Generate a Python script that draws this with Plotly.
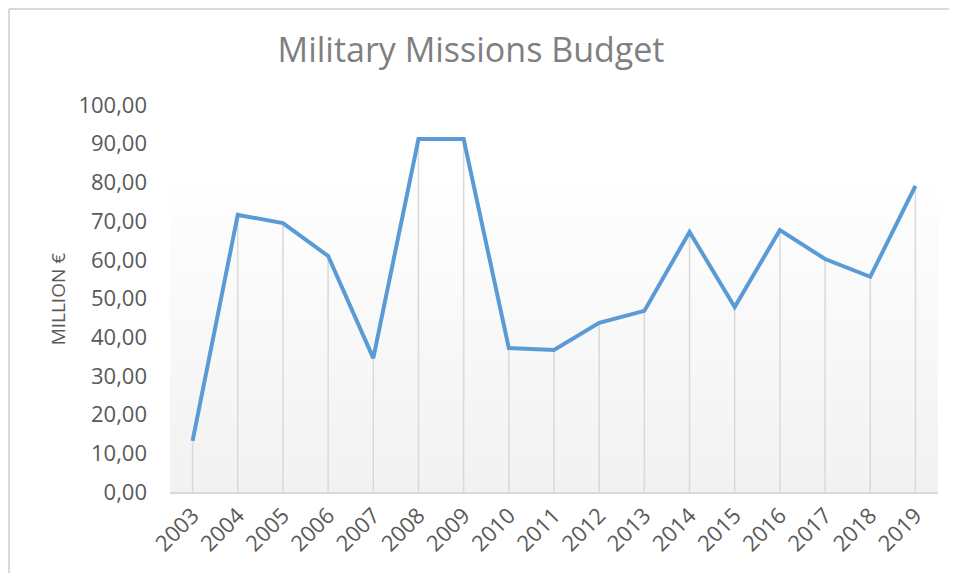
import plotly.graph_objects as go

years = ["2003", "2004", "2005", "2006", "2007", "2008", "2009", "2010", "2011",
         "2012", "2013", "2014", "2015", "2016", "2017", "2018", "2019"]
budget = [13.2, 71.6, 69.5, 61.0, 34.6, 91.2, 91.2, 37.2, 36.7,
          43.7, 46.8, 67.2, 47.8, 67.7, 60.2, 55.6, 79.1]
y_ticks = [0, 10, 20, 30, 40, 50, 60, 70, 80, 90, 100]

idx = list(range(len(years)))

fig = go.Figure()

# drop lines (behind the series)
fig.add_trace(go.Scatter(
    x=idx, y=budget, mode="markers", marker=dict(size=0.1, color="rgba(0,0,0,0)"),
    error_y=dict(type="data", symmetric=False, array=[0] * len(budget),
                 arrayminus=budget, width=0, color="#D9D9D9", thickness=1.5),
    hoverinfo="skip", showlegend=False,
))

fig.add_trace(go.Scatter(
    x=idx, y=budget, mode="lines",
    line=dict(color="#5B9BD5", width=4),
    showlegend=False,
))

# plot area gradient (background styling)
n = 40
top = 0.80
for i in range(n):
    t = i / (n - 1)
    c = int(round(242 + (254 - 242) * t))
    fig.add_shape(type="rect", xref="paper", yref="paper",
                  x0=0, x1=1, y0=top * i / n, y1=top * (i + 1) / n + 0.002,
                  fillcolor=f"rgb({c},{c},{c})", line=dict(width=0), layer="below")

# outer chart border: left and top edges only (others lie outside the view)
fig.add_shape(type="line", xref="paper", yref="paper",
              x0=-0.2096, x1=-0.2096, y0=-0.3, y1=1.248,
              line=dict(color="#D9D9D9", width=2), layer="below")
fig.add_shape(type="line", xref="paper", yref="paper",
              x0=-0.2096, x1=1.1, y0=1.248, y1=1.248,
              line=dict(color="#D9D9D9", width=2), layer="below")

fig.add_annotation(text="MILLION €", xref="paper", yref="paper",
                   x=-0.146, y=0.5, xanchor="center", yanchor="middle",
                   textangle=-90, showarrow=False,
                   font=dict(family="Open Sans", size=19, color="#595959"))

fig.update_layout(
    width=941, height=565,
    margin=dict(l=162, r=11, t=97, b=81),
    paper_bgcolor="white", plot_bgcolor="rgba(0,0,0,0)",
    separators=",.",
    title=dict(text="Military Missions Budget", xref="paper", x=0.392,
               xanchor="center", yref="container", y=0.926, yanchor="middle",
               font=dict(family="Open Sans", size=34, color="#7F7F7F")),
    xaxis=dict(range=[-0.5, len(years) - 0.5], tickmode="array", tickvals=idx,
               ticktext=years, tickangle=-45, showgrid=False, zeroline=False,
               showline=True, linecolor="#D9D9D9", linewidth=2,
               ticks="", tickfont=dict(family="Open Sans", size=22, color="#595959")),
    yaxis=dict(range=[0, 100], tickmode="array", tickvals=y_ticks, tickformat=".2f",
               showgrid=False, zeroline=False, showline=False, ticks="",
               ticklabelstandoff=22,
               tickfont=dict(family="Open Sans", size=22, color="#595959")),
)

fig.write_html("out.html")
